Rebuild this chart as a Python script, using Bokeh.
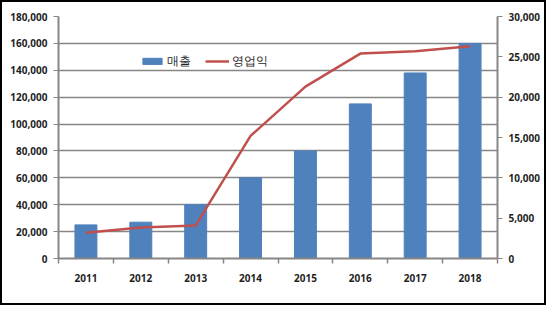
from bokeh.plotting import figure
from bokeh.models import (ColumnDataSource, FixedTicker, LinearAxis, Range1d,
                          NumeralTickFormatter, Legend, LegendItem)
from bokeh.embed import file_html
from bokeh.resources import INLINE

years = ["2011", "2012", "2013", "2014", "2015", "2016", "2017", "2018"]
sales = [25000, 27000, 40000, 60000, 80000, 115000, 138000, 160000]
profit = [3200, 3850, 4100, 15200, 21300, 25400, 25700, 26300]
left_ticks = [0, 20000, 40000, 60000, 80000, 100000, 120000, 140000, 160000, 180000]
right_ticks = [0, 5000, 10000, 15000, 20000, 25000, 30000]

xpos = [i + 0.5 for i in range(len(years))]
src = ColumnDataSource(dict(x=xpos, sales=sales, profit=profit, year=years))

FONT = "Noto Sans"
GRAY = "#868686"
TXT = "#1f1f1f"

p = figure(width=546, height=305, output_backend="svg", toolbar_location=None,
           x_range=Range1d(0, len(years)), y_range=Range1d(0, 180000),
           min_border_left=56, min_border_right=51, min_border_top=14, min_border_bottom=49)
p.styles = {"border": "2px solid #000000"}
p.outline_line_color = None
p.extra_y_ranges = {"right": Range1d(0, 30000)}

bars = p.vbar(x="x", top="sales", width=0.4, source=src, color="#4F81BD")
line = p.line(x="x", y="profit", source=src, y_range_name="right",
              line_color="#C0504D", line_width=2.5)

# x axis
xa = p.xaxis[0]
xa.ticker = FixedTicker(ticks=xpos, minor_ticks=list(range(len(years) + 1)))
xa.major_label_overrides = {x: y for x, y in zip(xpos, years)}
xa.major_tick_line_color = None
xa.minor_tick_out = 5
xa.minor_tick_in = 0
xa.minor_tick_line_color = GRAY
xa.minor_tick_line_width = 1.5
xa.axis_line_color = GRAY
xa.axis_line_width = 2
xa.major_label_standoff = 9

# left axis
ya = p.yaxis[0]
ya.ticker = FixedTicker(ticks=left_ticks)
ya.formatter = NumeralTickFormatter(format="0,0")
ya.axis_line_color = GRAY
ya.axis_line_width = 2
ya.major_tick_line_color = GRAY
ya.major_tick_out = 5
ya.major_tick_in = 0
ya.minor_tick_line_color = None
ya.major_label_standoff = 6

# right axis
ra = LinearAxis(y_range_name="right", ticker=FixedTicker(ticks=right_ticks),
                formatter=NumeralTickFormatter(format="0,0"))
ra.axis_line_color = GRAY
ra.axis_line_width = 2
ra.major_tick_line_color = GRAY
ra.major_tick_out = 5
ra.major_tick_in = 0
ra.minor_tick_line_color = None
ra.major_label_standoff = 6
p.add_layout(ra, "right")

for ax in [xa, ya, ra]:
    ax.major_label_text_font = FONT
    ax.major_label_text_font_size = "10px"
    ax.major_label_text_font_style = "bold"
    ax.major_label_text_color = TXT

p.xgrid.grid_line_color = None
p.ygrid.ticker = FixedTicker(ticks=left_ticks)
p.ygrid.grid_line_color = GRAY
p.ygrid.grid_line_width = 1.5

legend = Legend(items=[LegendItem(label="매출", renderers=[bars]),
                       LegendItem(label="영업익", renderers=[line])],
                orientation="horizontal", location=(82, 188))
legend.background_fill_alpha = 0
legend.border_line_color = None
legend.label_text_font = FONT
legend.label_text_font_size = "12px"
legend.label_text_color = TXT
legend.glyph_width = 24
legend.glyph_height = 8
legend.spacing = 14
legend.label_standoff = 3
p.add_layout(legend, "center")

open("out.html", "w").write(file_html(p, INLINE))
